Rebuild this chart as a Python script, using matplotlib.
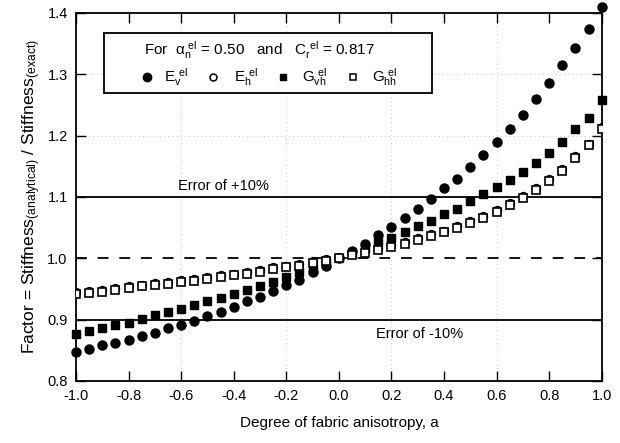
import matplotlib
matplotlib.use("Agg")
import matplotlib.pyplot as plt
import numpy as np

# degree of fabric anisotropy
a_vals = [-1.00, -0.95, -0.90, -0.85, -0.80, -0.75, -0.70, -0.65, -0.60, -0.55,
          -0.50, -0.45, -0.40, -0.35, -0.30, -0.25, -0.20, -0.15, -0.10, -0.05,
          0.00, 0.05, 0.10, 0.15, 0.20, 0.25, 0.30, 0.35, 0.40, 0.45,
          0.50, 0.55, 0.60, 0.65, 0.70, 0.75, 0.80, 0.85, 0.90, 0.95, 1.00]

E_v = [0.848, 0.852, 0.858, 0.862, 0.867, 0.873, 0.879, 0.886, 0.892, 0.898,
       0.906, 0.913, 0.921, 0.930, 0.937, 0.947, 0.956, 0.965, 0.977, 0.987,
       1.000, 1.012, 1.024, 1.038, 1.051, 1.065, 1.081, 1.097, 1.114, 1.130,
       1.149, 1.168, 1.189, 1.211, 1.234, 1.259, 1.286, 1.315, 1.342, 1.374, 1.410]

E_h = [0.945, 0.946, 0.948, 0.951, 0.954, 0.957, 0.959, 0.961, 0.964, 0.966,
       0.970, 0.972, 0.975, 0.977, 0.981, 0.985, 0.988, 0.991, 0.995, 0.998,
       1.000, 1.008, 1.012, 1.016, 1.021, 1.027, 1.033, 1.039, 1.045, 1.052,
       1.061, 1.069, 1.079, 1.090, 1.101, 1.114, 1.129, 1.146, 1.166, 1.187, 1.214]

G_vh = [0.877, 0.882, 0.886, 0.892, 0.895, 0.901, 0.907, 0.912, 0.918, 0.924,
        0.931, 0.936, 0.942, 0.948, 0.955, 0.962, 0.969, 0.977, 0.983, 0.990,
        1.000, 1.009, 1.019, 1.026, 1.033, 1.043, 1.052, 1.061, 1.072, 1.081,
        1.094, 1.105, 1.116, 1.128, 1.141, 1.155, 1.172, 1.190, 1.210, 1.229, 1.258]

G_hh = [0.942, 0.943, 0.945, 0.948, 0.951, 0.954, 0.956, 0.958, 0.961, 0.963,
        0.967, 0.969, 0.972, 0.974, 0.978, 0.982, 0.985, 0.988, 0.992, 0.996,
        1.000, 1.005, 1.009, 1.013, 1.018, 1.024, 1.030, 1.036, 1.042, 1.049,
        1.058, 1.066, 1.076, 1.087, 1.098, 1.111, 1.126, 1.143, 1.163, 1.184, 1.211]

x_ticks = [-1.0, -0.8, -0.6, -0.4, -0.2, 0.0, 0.2, 0.4, 0.6, 0.8, 1.0]
y_ticks = [0.8, 0.9, 1.0, 1.1, 1.2, 1.3, 1.4]

plt.rcParams['font.family'] = ['Liberation Sans', 'DejaVu Sans']
plt.rcParams['mathtext.fontset'] = 'custom'
plt.rcParams['mathtext.rm'] = 'Liberation Sans'
plt.rcParams['mathtext.it'] = 'Liberation Sans'

fig = plt.figure(figsize=(6.2, 4.43), dpi=100)
ax = fig.add_axes([0.1226, 0.14, 0.848, 0.831])

# faint scan grid
for gx in [-0.6, -0.2, 0.2, 0.6]:
    ax.axvline(gx, color='#b0b0b0', lw=0.6, ls=(0, (1, 4)), zorder=0)
for gy in [1.2, 1.3]:
    ax.axhline(gy, color='#b0b0b0', lw=0.6, ls=(0, (1, 4)), zorder=0)

# error bounds
ax.axhline(1.1, color='black', lw=1.3, zorder=1)
ax.axhline(0.9, color='black', lw=1.3, zorder=1)
ax.axhline(1.0, color='black', lw=1.3, ls=(0, (6, 6)), zorder=1)
ax.text(-0.44, 1.117, 'Error of +10%', ha='center', va='center', fontsize=10.5)
ax.text(0.305, 0.876, 'Error of -10%', ha='center', va='center', fontsize=10.5)

ax.plot(a_vals, E_v, 'o', color='black', ms=6.5, clip_on=False, zorder=3)
ax.plot(a_vals, E_h, 'o', mfc='white', mec='black', mew=1.2, ms=5.5, zorder=3)
ax.plot(a_vals, G_vh, 's', color='black', ms=5.5, clip_on=False, zorder=3)
ax.plot(a_vals, G_hh, 's', mfc='white', mec='black', mew=1.2, ms=5.5, zorder=3)

ax.set_xlim(-1.0, 1.0)
ax.set_ylim(0.8, 1.4)
ax.set_xticks(x_ticks)
ax.set_xticklabels(['%.1f' % t for t in x_ticks])
ax.set_yticks(y_ticks)
ax.set_yticklabels(['%.1f' % t for t in y_ticks])
ax.tick_params(direction='in', length=7, width=1.0, top=True, right=True,
               labelsize=10.5, pad=6)
for s in ax.spines.values():
    s.set_linewidth(1.3)

ax.set_xlabel('Degree of fabric anisotropy, a', fontsize=11, labelpad=9)
ax.set_ylabel(r'Factor = Stiffness$_{\rm (analytical)}$ / Stiffness$_{\rm (exact)}$',
              fontsize=12.5, labelpad=3)

# legend box drawn by hand
ax_leg = fig.add_axes([104 / 620, 1 - 93 / 443, 328 / 620, 60 / 443])
ax_leg.set_xlim(0, 328)
ax_leg.set_ylim(60, 0)
ax_leg.set_xticks([])
ax_leg.set_yticks([])
for s in ax_leg.spines.values():
    s.set_linewidth(1.3)
ax_leg.text(40, 17, r'For  $\alpha_n^{\ el}$ = 0.50   and   $C_r^{\ el}$ = 0.817',
            fontsize=11, va='center')
ax_leg.plot([43], [44], 'o', color='black', ms=6)
ax_leg.text(60, 44, r'$E_v^{\ el}$', fontsize=11, va='center')
ax_leg.plot([109], [44], 'o', mfc='white', mec='black', mew=1.1, ms=5)
ax_leg.text(130, 44, r'$E_h^{\ el}$', fontsize=11, va='center')
ax_leg.plot([179], [44], 's', color='black', ms=5)
ax_leg.text(198, 44, r'$G_{vh}^{\ el}$', fontsize=11, va='center')
ax_leg.plot([249], [44], 's', mfc='white', mec='black', mew=1.1, ms=5)
ax_leg.text(268, 44, r'$G_{hh}^{\ el}$', fontsize=11, va='center')

fig.savefig('out.png', dpi=100)
